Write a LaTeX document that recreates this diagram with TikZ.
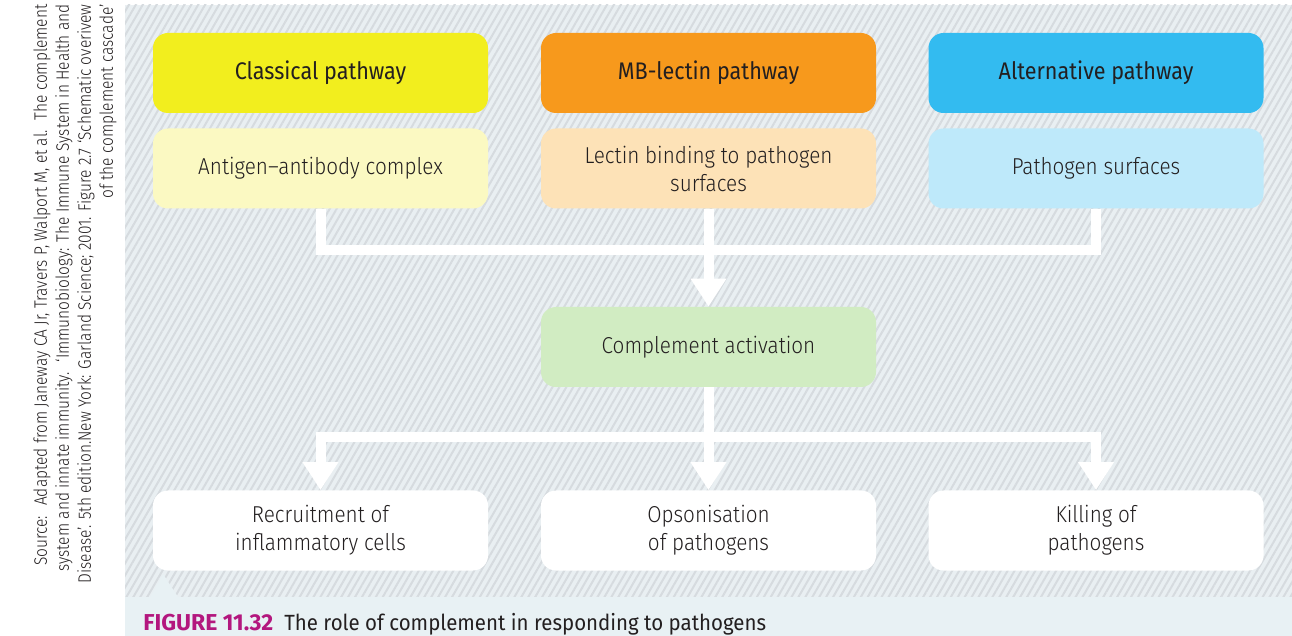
\documentclass[tikz,border=0pt]{standalone}
\usepackage{fontspec}
\setmainfont{Fira Sans}
\newfontfamily\lightfont[FakeStretch=0.9,Ligatures=TeX]{Fira Sans Light}
\newfontfamily\headfont[FakeStretch=0.9,Ligatures=TeX]{Fira Sans}
\newfontfamily\srcfont[FakeStretch=0.86,Ligatures=TeX]{Fira Sans Light}
\newfontfamily\capfont[FakeStretch=0.93,Ligatures=TeX]{Fira Sans}
\newfontfamily\figfont[FakeStretch=1.0]{Fira Sans}
\usetikzlibrary{patterns.meta,arrows.meta}
\definecolor{yel}{HTML}{F2EE1E}
\definecolor{org}{HTML}{F7991C}
\definecolor{blu}{HTML}{33BBF0}
\definecolor{lyel}{HTML}{FBF9C2}
\definecolor{lorg}{HTML}{FDE2B7}
\definecolor{lblu}{HTML}{BEE9FA}
\definecolor{grn}{HTML}{D1ECC2}
\definecolor{bgA}{HTML}{E9EFF2}
\definecolor{hatch}{HTML}{D6DBDF}
\definecolor{capbg}{HTML}{E8F1F4}
\definecolor{figmag}{HTML}{B3177E}
\definecolor{txt}{HTML}{231F20}
\begin{document}
\begin{tikzpicture}[x=0.5pt,y=-0.5pt,
  boxbase/.style={rounded corners=7.5pt, minimum width=167.5pt, minimum height=40pt, inner sep=0pt, text=txt, align=center},
  hdr/.style={boxbase, font=\headfont\fontsize{12}{14}\selectfont},
  sub/.style={boxbase, font=\lightfont\fontsize{11.5}{14}\selectfont},
  wline/.style={draw=white, line width=5pt, line join=miter},
  warrow/.style={wline, -{Triangle[width=17pt,length=14pt]}},
  wboth/.style={wline, {Triangle[width=17pt,length=14pt]}-{Triangle[width=17pt,length=14pt]}}
]
\useasboundingbox (0,0) rectangle (1292,636);
% backgrounds
\fill[bgA] (125,5) rectangle (1292,597);
\fill[pattern={Lines[angle=60,distance=3pt,line width=1pt]}, pattern color=hatch] (125,5) rectangle (1292,597);
\fill[capbg] (125,597) rectangle (1292,636);
\fill[capbg] (150,597) -- (163,574) -- (178,597) -- cycle;
% source text
\node[rotate=90, anchor=north east, align=right, inner sep=0pt, text=txt,
  font=\srcfont\fontsize{9}{11}\selectfont] (src) at (33,4)
  {Source: \ Adapted from Janeway CA Jr, Travers P, Walport M, et al. \ The complement\\
   system and innate immunity. \ `Immunobiology: The Immune System in Health and\\
   Disease'. 5th edition.New York: Garland Science; 2001. Figure 2.7 `Schematic overivew\\
   of the complement cascade'};
% caption
\node[anchor=base west, inner sep=0pt, text=txt, font=\capfont\fontsize{11}{13}\selectfont] (cap) at (143,630)
  {{\figfont\fontsize{11.5}{13}\selectfont\bfseries\color{figmag}FIGURE 11.32}\enspace The role of complement in responding to pathogens};
% header boxes
\node[hdr, fill=yel] (a1) at (320.5,73) {Classical pathway};
\node[hdr, fill=org] (b1) at (708.5,73) {MB-lectin pathway};
\node[hdr, fill=blu] (c1) at (1096,73) {Alternative pathway};
% second row
\node[sub, fill=lyel] (a2) at (320.5,168.5) {Antigen–antibody complex};
\node[sub, fill=lorg] (b2) at (708.5,168.5) {Lectin binding to pathogen\\surfaces};
\node[sub, fill=lblu] (c2) at (1096,168.5) {Pathogen surfaces};
% activation
\node[sub, fill=grn] (act) at (708.5,347) {Complement activation};
% bottom row
\node[sub, fill=white] (r1) at (320.5,530.5) {Recruitment of\\inflammatory cells};
\node[sub, fill=white] (r2) at (708.5,530.5) {Opsonisation\\of pathogens};
\node[sub, fill=white] (r3) at (1096,530.5) {Killing of\\pathogens};
% connectors
\coordinate (busA) at (708.5,250);
\coordinate (busB) at (708.5,437);
\draw[wline] (a2.south) |- (busA) -| (c2.south);
\draw[warrow] (b2.south) -- (act.north);
\draw[wboth] (r1.north) |- (busB) -| (r3.north);
\draw[warrow] (act.south) -- (r2.north);
\end{tikzpicture}
\end{document}
